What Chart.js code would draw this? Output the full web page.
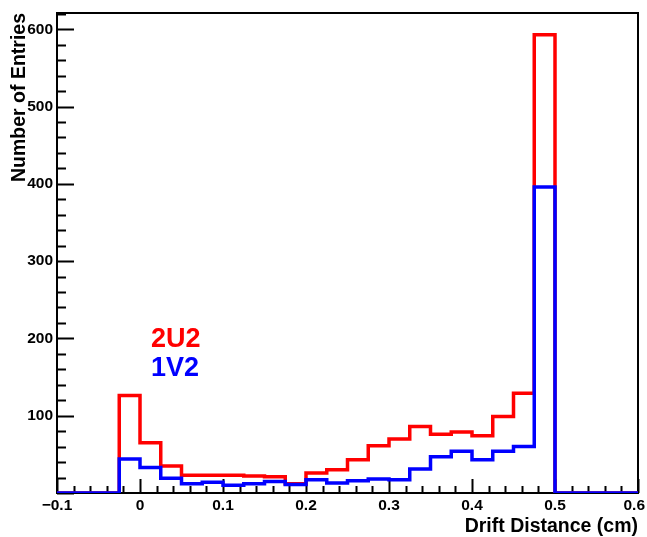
<!DOCTYPE html>
<html>
<head>
<meta charset="utf-8">
<script src="https://cdn.jsdelivr.net/npm/chart.js@4"></script>
<style>
  body { margin: 0; background: #fff; }
  #c { display: block; }
</style>
</head>
<body>
<canvas id="c" width="647" height="537"></canvas>
<script>
// lower edges of the 0.025 cm bins that hold entries
const binStarts = [-0.025, 0, 0.025, 0.05, 0.075, 0.1, 0.125, 0.15, 0.175, 0.2, 0.225,
  0.25, 0.275, 0.3, 0.325, 0.35, 0.375, 0.4, 0.425, 0.45, 0.475];
const binEnd = 0.5;
const counts2U2 = [126, 65, 35, 23, 23, 23, 22, 21, 12, 26, 30, 43, 61, 70, 86, 76, 79, 74, 99, 129, 593];
const counts1V2 = [44, 33, 19, 12, 14, 10, 12, 15, 11, 17, 13, 16, 18, 17, 31, 47, 54, 43, 54, 60, 396];

const xMin = -0.1, xMax = 0.6;
const yMin = 0, yMax = 621;
const xTickValues = [-0.1, 0, 0.1, 0.2, 0.3, 0.4, 0.5, 0.6];
const xTickLabels = ["\u22120.1", "0", "0.1", "0.2", "0.3", "0.4", "0.5", "0.6"];
const yTickValues = [100, 200, 300, 400, 500, 600];
const yTickLabels = ["100", "200", "300", "400", "500", "600"];
const xMinorStep = 0.02, yMinorStep = 20;

const FONT = "'Liberation Sans', Arial, Helvetica, sans-serif";

function histPoints(vals) {
  const pts = [{ x: xMin, y: 0 }];
  binStarts.forEach((x, i) => pts.push({ x: x, y: vals[i] }));
  pts.push({ x: binEnd, y: 0 });
  pts.push({ x: xMax, y: 0 });
  return pts;
}

// ROOT style frame + inward ticks, drawn under the histograms
const frameAxes = {
  id: "frame-axes",
  beforeDatasetsDraw(chart) {
    const { ctx, chartArea: a, scales: { x, y } } = chart;
    ctx.save();
    ctx.strokeStyle = "#000";
    ctx.lineWidth = 2;
    ctx.strokeRect(a.left, a.top, a.right - a.left, a.bottom - a.top);
    ctx.beginPath();
    for (let i = 0; ; i++) {
      const v = xMin + i * xMinorStep;
      if (v > xMax + 1e-9) break;
      const px = Math.round(x.getPixelForValue(v)) + 0.5;
      const major = Math.abs(Math.round(v * 10) - v * 10) < 1e-6;
      ctx.moveTo(px, a.bottom);
      ctx.lineTo(px, a.bottom - (major ? 14 : 7));
    }
    for (let i = 0; ; i++) {
      const v = yMin + i * yMinorStep;
      if (v > yMax) break;
      const py = Math.round(y.getPixelForValue(v)) + 0.5;
      const major = v % 100 === 0;
      ctx.moveTo(a.left, py);
      ctx.lineTo(a.left + (major ? 17 : 9), py);
    }
    ctx.stroke();
    ctx.restore();
  },
  afterDraw(chart) {
    const { ctx, chartArea: a, scales: { x, y } } = chart;
    const W = chart.width;
    ctx.save();
    ctx.fillStyle = "#000";
    ctx.font = "bold 15.5px " + FONT;
    ctx.textAlign = "center";
    ctx.textBaseline = "top";
    xTickValues.forEach((v, i) => {
      const half = ctx.measureText(xTickLabels[i]).width / 2;
      const cx = Math.min(x.getPixelForValue(v), W - 2 - half);
      ctx.fillText(xTickLabels[i], cx, a.bottom + 5);
    });
    ctx.textAlign = "right";
    ctx.textBaseline = "middle";
    yTickValues.forEach((v, i) => {
      ctx.fillText(yTickLabels[i], a.left - 4, y.getPixelForValue(v));
    });

    ctx.font = "bold 19.5px " + FONT;
    ctx.textAlign = "right";
    ctx.textBaseline = "alphabetic";
    ctx.fillText("Drift Distance (cm)", a.right, 532);

    ctx.save();
    ctx.translate(25, a.top);
    ctx.rotate(-Math.PI / 2);
    ctx.textAlign = "right";
    ctx.fillText("Number of Entries", 0, 0);
    ctx.restore();

    ctx.font = "bold 27px " + FONT;
    ctx.textAlign = "left";
    ctx.fillStyle = "#ff0000";
    ctx.fillText("2U2", 151, 347);
    ctx.fillStyle = "#0000ff";
    ctx.fillText("1V2", 151, 376);
    ctx.restore();
  }
};

new Chart(document.getElementById("c"), {
  type: "line",
  data: {
    datasets: [
      {
        label: "2U2",
        data: histPoints(counts2U2),
        borderColor: "#ff0000",
        borderWidth: 3.5,
        stepped: true,
        pointRadius: 0,
        fill: false,
        order: 2
      },
      {
        label: "1V2",
        data: histPoints(counts1V2),
        borderColor: "#0000ff",
        borderWidth: 3.5,
        stepped: true,
        pointRadius: 0,
        fill: false,
        order: 1
      }
    ]
  },
  options: {
    responsive: false,
    animation: false,
    layout: { padding: { left: 57, right: 9, top: 13, bottom: 44 } },
    plugins: {
      legend: { display: false },
      tooltip: { enabled: false }
    },
    scales: {
      x: { type: "linear", min: xMin, max: xMax, display: false },
      y: { type: "linear", min: yMin, max: yMax, display: false }
    }
  },
  plugins: [frameAxes]
});
</script>
</body>
</html>
